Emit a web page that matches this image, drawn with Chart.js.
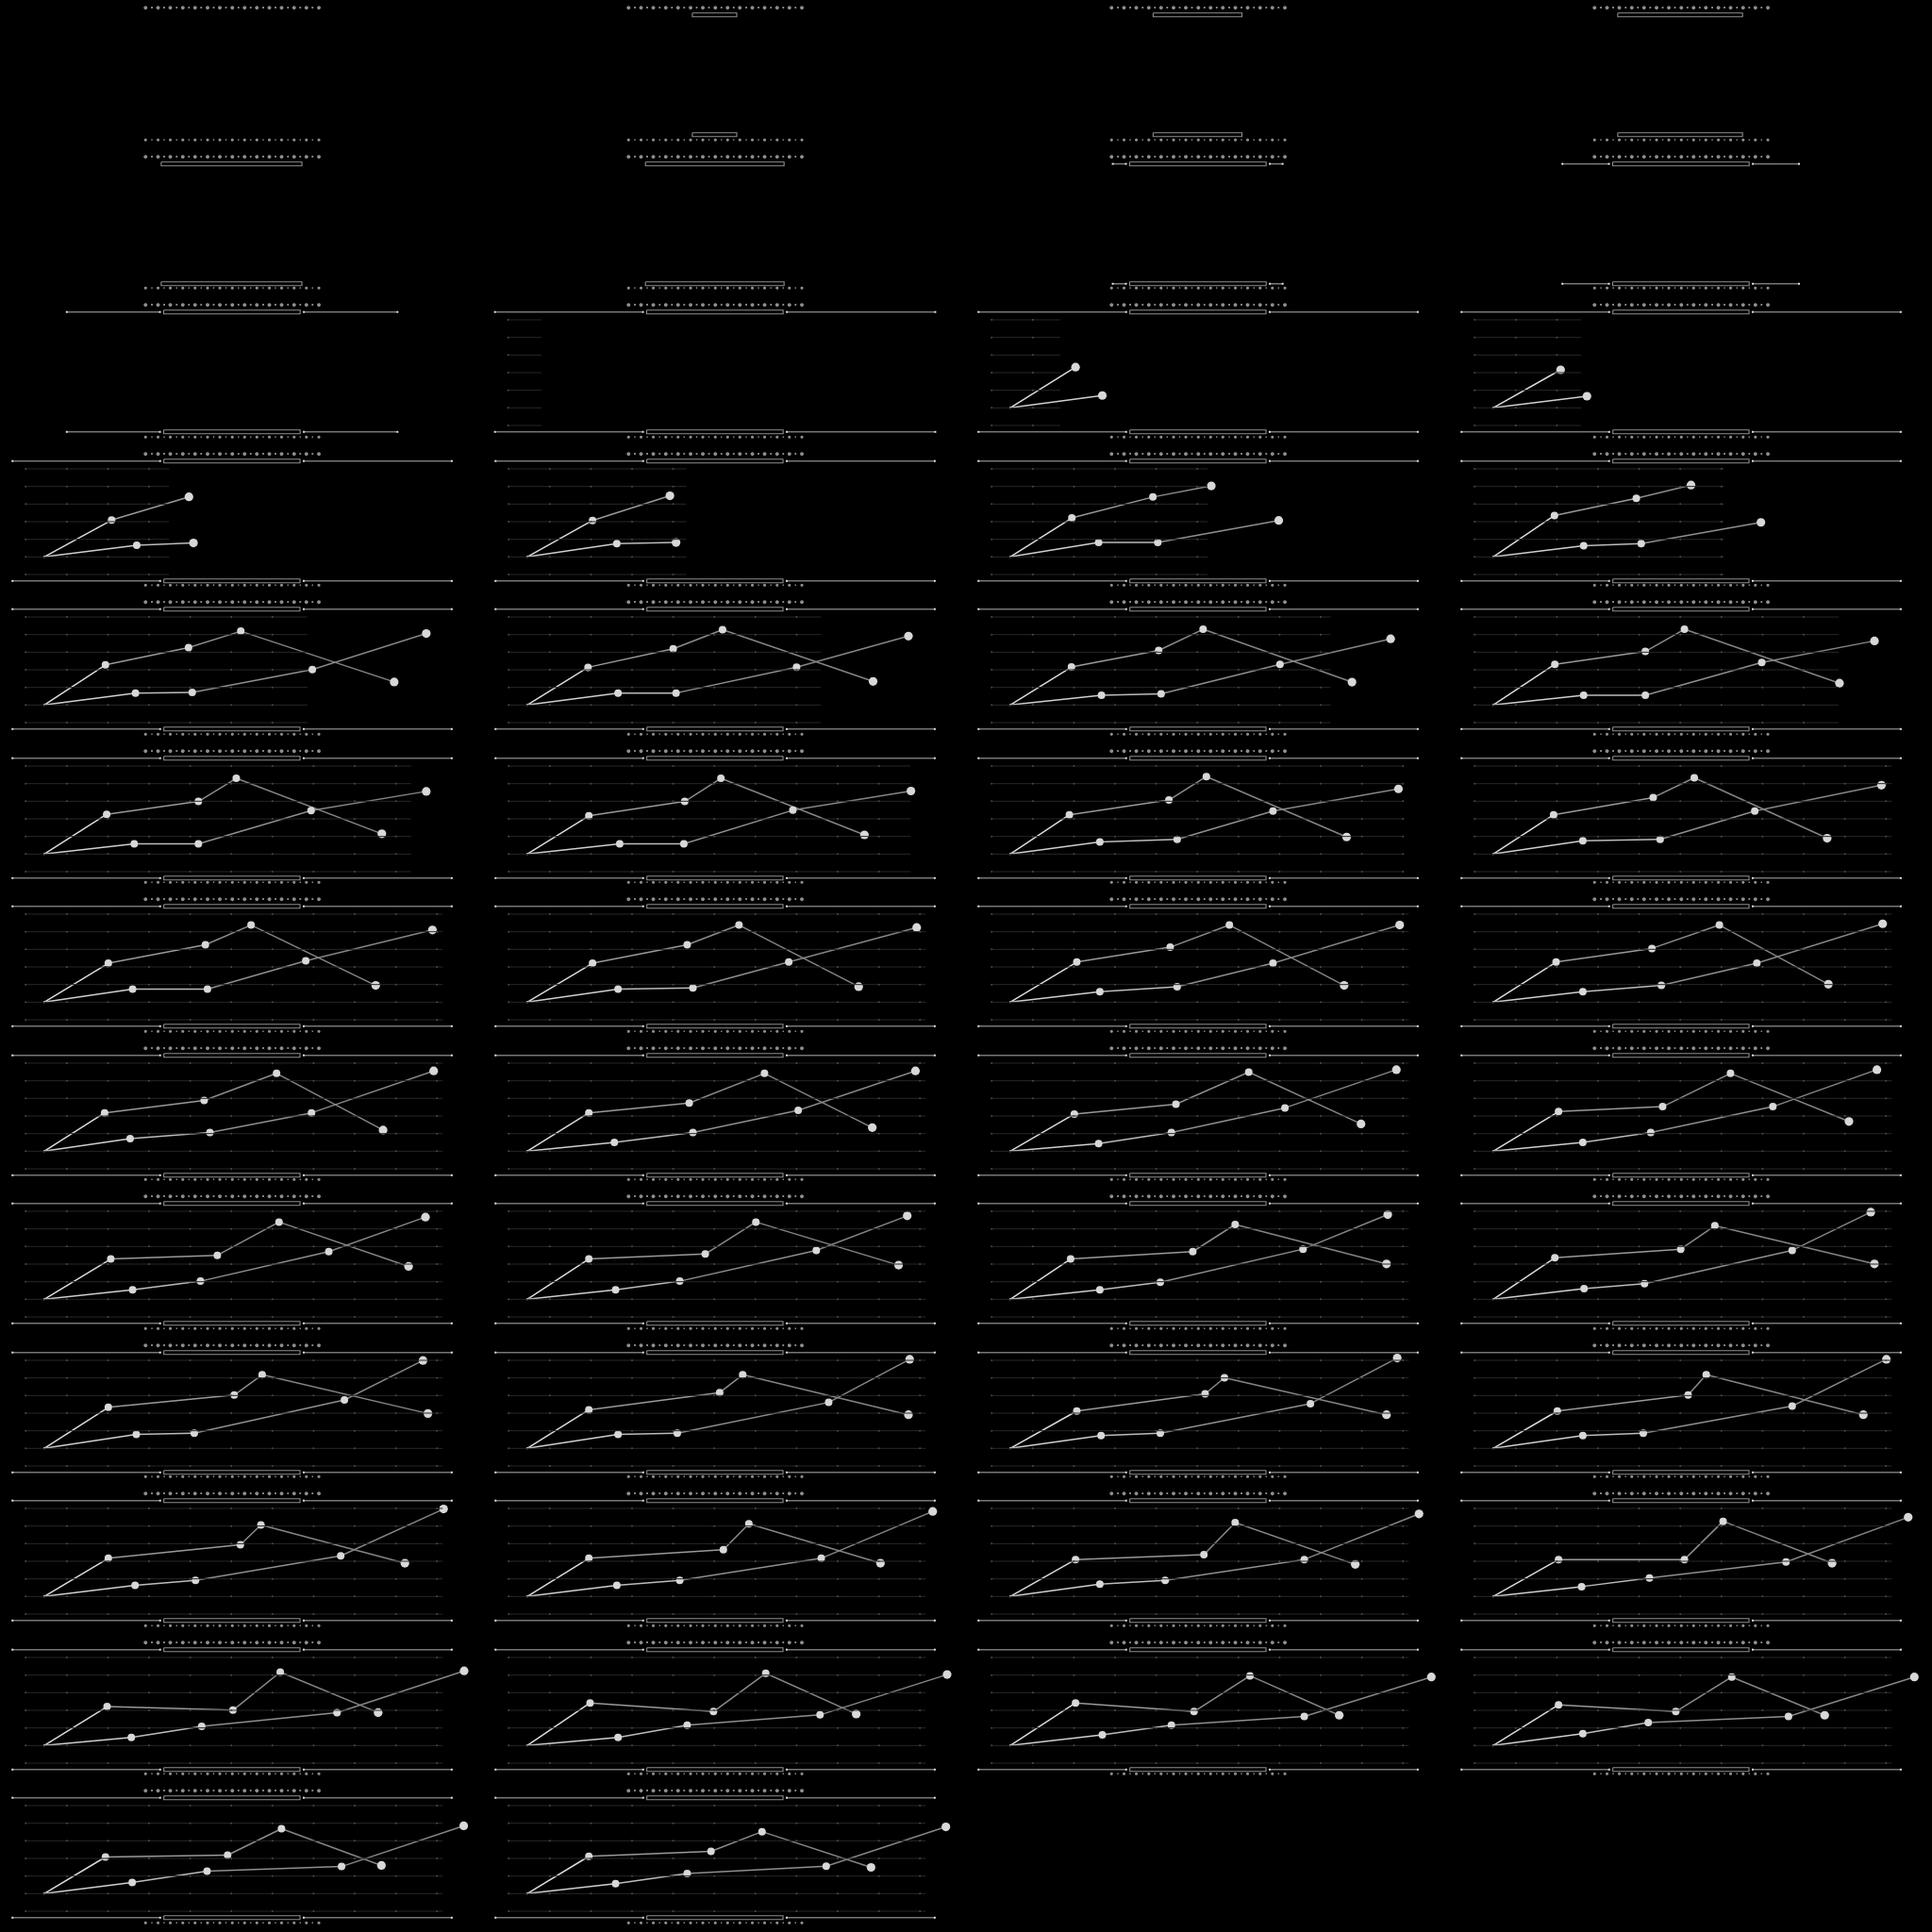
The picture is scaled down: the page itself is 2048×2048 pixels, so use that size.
<!DOCTYPE html>
<html><head><meta charset="utf-8">
<script src="https://cdn.jsdelivr.net/npm/chart.js@4/dist/chart.umd.min.js"></script>
<style>
html,body{margin:0;padding:0;background:#000;}
#wrap{position:relative;width:2048px;height:2048px;background:#000;overflow:hidden}
.tile{position:absolute;width:512px}
canvas{display:block}
</style></head><body><div id="wrap"></div>
<script>
// ---------------- DATA ----------------
const titleText = '∙·∙·∙·∙·∙·∙·∙·∙·∙·∙·∙·∙·∙·∙·∙   ';
const startPoint = [0.45, 10];
const gridLevels = [0, 10, 20, 30, 40, 50, 60];
const xTicks = [0, 1, 2, 3, 4, 5, 6, 7, 8, 9, 10];

// right end of the horizontal grid in each frame (x units), null = no grid
const gridRight = [null,null,null,null,null,null,null,null,null,0.81,
  1.67,2.59,3.49,4.32,5.25,6.06,6.85,7.59,8.24,8.85,
  9.37,9.77,10.02,10.14,10.14,10.14,10.14,10.14,10.14,10.14,
  10.14,10.14,10.14,10.14,10.14,10.14,10.14,10.14,10.14,10.14,
  10.14,10.14,10.14,10.14,10.14,10.14,10.14,10.14,10.14,10.14];

// box-and-whisker strip (x units) per frame
const boxLow  = [null,4.48,3.95,3.51,3.33,3.36,3.36,3.36,3.36,3.36,
  3.36,3.36,3.36,3.36,3.36,3.36,3.36,3.36,3.36,3.36,3.36,3.36,3.36,3.36,3.36,
  3.36,3.36,3.36,3.36,3.36,3.36,3.36,3.36,3.36,3.36,3.36,3.36,3.36,3.36,3.36,
  3.36,3.36,3.36,3.36,3.36,3.36,3.36,3.36,3.36,3.36];
const boxHigh = [null,5.54,6.07,6.49,6.69,6.67,6.67,6.67,6.67,6.67,
  6.67,6.67,6.67,6.67,6.67,6.67,6.67,6.67,6.67,6.67,6.67,6.67,6.67,6.67,6.67,
  6.67,6.67,6.67,6.67,6.67,6.67,6.67,6.67,6.67,6.67,6.67,6.67,6.67,6.67,6.67,
  6.67,6.67,6.67,6.67,6.67,6.67,6.67,6.67,6.67,6.67];
const whiskLow  = [null,null,null,null,null,null,2.95,2.14,1.01,-0.32,
  -0.32,-0.32,-0.32,-0.32,-0.32,-0.32,-0.32,-0.32,-0.32,-0.32,-0.32,-0.32,-0.32,-0.32,-0.32,
  -0.32,-0.32,-0.32,-0.32,-0.32,-0.32,-0.32,-0.32,-0.32,-0.32,-0.32,-0.32,-0.32,-0.32,-0.32,
  -0.32,-0.32,-0.32,-0.32,-0.32,-0.32,-0.32,-0.32,-0.32,-0.32];
const whiskHigh = [null,null,null,null,null,null,7.07,7.88,9.03,10.36,
  10.36,10.36,10.36,10.36,10.36,10.36,10.36,10.36,10.36,10.36,10.36,10.36,10.36,10.36,10.36,
  10.36,10.36,10.36,10.36,10.36,10.36,10.36,10.36,10.36,10.36,10.36,10.36,10.36,10.36,10.36,
  10.36,10.36,10.36,10.36,10.36,10.36,10.36,10.36,10.36,10.36];

// series values per frame, [x, y] after the shared start point
const seriesA = [[],[],[],[],[],[],[],[],[],[],
  [[2.04,33.1]],
  [[2.09,31.6]],
  [[2.09,30.9],[3.97,44.1]],
  [[2.04,30.7],[3.92,44.7]],
  [[1.95,32.1],[3.92,44.0],[5.34,50.3]],
  [[1.94,33.5],[3.93,43.3],[5.26,50.8]],
  [[1.94,32.8],[3.96,42.6],[5.23,51.9],[8.96,23.1]],
  [[1.93,31.4],[4.00,41.9],[5.20,52.8],[8.86,23.4]],
  [[1.94,31.6],[4.06,41.0],[5.14,53.0],[8.76,23.0]],
  [[1.95,33.1],[4.15,40.4],[5.10,53.0],[8.87,22.4]],
  [[1.97,32.6],[4.20,39.9],[5.12,53.0],[8.66,21.5]],
  [[1.95,31.7],[4.28,39.9],[5.16,53.0],[8.65,20.9]],
  [[1.89,32.3],[4.31,40.7],[5.22,54.0],[8.63,19.7]],
  [[1.92,32.3],[4.34,42.1],[5.34,53.3],[8.57,19.0]],
  [[2.01,32.1],[4.37,42.6],[5.48,53.8],[8.51,19.5]],
  [[2.04,32.1],[4.34,42.6],[5.60,53.8],[8.51,18.8]],
  [[2.07,32.8],[4.34,41.2],[5.78,53.8],[8.57,19.5]],
  [[1.98,32.8],[4.31,40.5],[5.95,53.8],[8.60,20.2]],
  [[1.92,31.8],[4.34,38.8],[6.10,54.2],[8.69,22.0]],
  [[1.95,31.8],[4.39,37.4],[6.22,54.2],[8.84,23.4]],
  [[2.01,31.1],[4.48,36.7],[6.25,54.9],[8.98,25.5]],
  [[2.04,32.5],[4.57,35.3],[6.22,54.2],[9.10,26.9]],
  [[2.07,32.9],[4.66,35.0],[6.16,53.9],[9.31,28.7]],
  [[1.95,32.9],[4.78,35.7],[6.01,53.9],[9.48,29.4]],
  [[1.92,32.9],[4.89,37.1],[5.92,52.5],[9.60,30.1]],
  [[1.95,33.6],[5.01,38.5],[5.84,51.8],[9.72,30.1]],
  [[2.01,33.3],[5.07,40.3],[5.75,51.8],[9.78,29.8]],
  [[1.95,31.9],[5.13,41.7],[5.69,51.8],[9.72,29.1]],
  [[2.07,31.2],[5.19,41.0],[5.66,50.1],[9.60,29.1]],
  [[2.01,31.2],[5.19,40.3],[5.63,51.8],[9.45,29.1]],
  [[2.01,31.7],[5.22,39.4],[5.72,50.6],[9.22,28.9]],
  [[1.95,31.7],[5.22,36.6],[5.84,51.3],[9.04,28.9]],
  [[2.04,31.0],[5.16,33.8],[5.92,52.0],[8.84,28.2]],
  [[2.04,31.0],[5.10,31.0],[6.04,52.7],[8.69,28.9]],
  [[1.98,32.1],[5.04,30.1],[6.19,51.7],[8.57,28.7]],
  [[1.98,34.2],[4.98,29.3],[6.25,51.0],[8.45,27.9]],
  [[2.04,34.2],[4.92,29.3],[6.28,49.6],[8.45,27.2]],
  [[2.04,33.1],[4.89,29.3],[6.25,48.9],[8.51,27.2]],
  [[1.94,30.8],[4.91,31.9],[6.22,46.9],[8.65,26.0]],
  [[1.95,31.2],[4.92,34.0],[6.16,45.2],[8.81,24.9]]
];
const seriesB = [[],[],[],[],[],[],[],[],[],[],
  [[2.69,17.0]],
  [[2.73,16.6]],
  [[2.70,16.6],[4.08,17.9]],
  [[2.63,17.5],[4.07,18.2]],
  [[2.60,18.2],[4.04,18.2],[6.98,30.7]],
  [[2.65,16.4],[4.05,17.6],[6.96,29.6]],
  [[2.67,16.7],[4.05,17.2],[6.97,30.1],[9.74,50.6]],
  [[2.66,16.8],[4.07,16.8],[7.00,31.5],[9.72,49.1]],
  [[2.67,15.5],[4.12,16.3],[7.01,33.1],[9.70,47.6]],
  [[2.65,15.5],[4.15,15.5],[6.98,34.2],[9.72,46.4]],
  [[2.64,15.8],[4.20,15.8],[6.94,34.7],[9.74,45.6]],
  [[2.70,15.8],[4.26,15.8],[6.91,34.9],[9.78,45.8]],
  [[2.63,16.9],[4.51,18.3],[6.84,34.4],[9.89,47.0]],
  [[2.63,17.6],[4.51,18.3],[6.81,34.4],[9.89,49.1]],
  [[2.60,17.4],[4.42,17.4],[6.81,33.5],[9.89,51.0]],
  [[2.66,17.4],[4.48,18.1],[6.81,32.8],[9.92,52.4]],
  [[2.63,16.0],[4.51,18.8],[6.84,32.1],[9.92,53.8]],
  [[2.63,16.0],[4.54,19.5],[6.86,32.1],[9.92,54.5]],
  [[2.54,17.1],[4.48,20.6],[6.95,31.8],[9.92,55.6]],
  [[2.57,15.0],[4.48,20.6],[7.04,33.2],[9.89,55.6]],
  [[2.60,14.3],[4.37,20.6],[7.13,34.6],[9.84,56.3]],
  [[2.63,15.0],[4.28,20.6],[7.25,35.3],[9.78,56.3]],
  [[2.60,15.4],[4.25,20.3],[7.37,37.1],[9.72,56.7]],
  [[2.60,15.4],[4.16,20.3],[7.48,37.8],[9.69,57.4]],
  [[2.63,15.4],[4.10,19.7],[7.57,38.5],[9.63,58.1]],
  [[2.66,16.1],[4.13,18.9],[7.72,37.8],[9.63,59.5]],
  [[2.69,17.9],[4.10,18.6],[7.75,37.5],[9.66,59.9]],
  [[2.66,17.9],[4.10,18.6],[7.78,36.1],[9.75,60.6]],
  [[2.66,17.3],[4.10,18.6],[7.75,35.4],[9.86,61.3]],
  [[2.63,17.3],[4.10,18.6],[7.72,34.0],[10.01,60.6]],
  [[2.66,16.3],[4.13,19.2],[7.66,33.1],[10.16,59.7]],
  [[2.63,16.3],[4.16,19.2],[7.60,31.7],[10.31,58.3]],
  [[2.63,17.0],[4.22,19.2],[7.60,31.0],[10.39,56.9]],
  [[2.60,15.6],[4.25,20.5],[7.57,29.6],[10.54,55.0]],
  [[2.57,14.6],[4.28,20.9],[7.57,28.7],[10.66,52.4]],
  [[2.66,14.6],[4.34,21.6],[7.57,27.4],[10.66,50.3]],
  [[2.69,16.1],[4.37,21.6],[7.60,26.5],[10.69,48.9]],
  [[2.63,16.8],[4.22,23.0],[7.63,26.5],[10.69,48.9]],
  [[2.59,16.3],[4.41,22.8],[7.68,25.4],[10.65,48.5]],
  [[2.60,15.7],[4.34,21.4],[7.72,25.6],[10.63,47.9]]
];

// ---------------- LAYOUT / STYLE ----------------
const COLS = 4, ROWS = 13, TILE_W = 512;
const PX_PER_X = 44.4, X0_PX = 23;          // x=0 sits 23px into a tile
const PX_PER_Y = 112 / 60, Y60_PX = 24, Y0_PX = 136;
const TITLE_PAD_TOP = 3.5, FONT_SIZE = 10.9, SUB_PAD_BOTTOM = 3;
const STRIP_TOP_Y = 64.45, STRIP_BOTTOM_Y = -3.64, STRIP_HALF = 1.07, WHISK_GAP = 0.09;
const fontSpec = {family: 'DejaVu Sans Mono', size: FONT_SIZE, lineHeight: 1};

const wrap = document.getElementById('wrap');

function stripDatasets(f, yc) {
  const out = [];
  if (boxLow[f] != null) {
    const lo = boxLow[f], hi = boxHigh[f];
    out.push({data: [{x: lo, y: yc + STRIP_HALF}, {x: hi, y: yc + STRIP_HALF}, {x: hi, y: yc - STRIP_HALF},
      {x: lo, y: yc - STRIP_HALF}, {x: lo, y: yc + STRIP_HALF}],
      borderColor: '#8e8e8e', borderWidth: 1.1, pointRadius: 0});
  }
  if (whiskLow[f] != null) {
    const common = {borderColor: '#777', borderWidth: 1.6, pointRadius: 1.4, pointStyle: 'rect',
      pointBackgroundColor: '#e0e0e0', pointBorderWidth: 0};
    out.push(Object.assign({data: [{x: whiskLow[f], y: yc}, {x: boxLow[f] - WHISK_GAP, y: yc}]}, common));
    out.push(Object.assign({data: [{x: boxHigh[f] + WHISK_GAP, y: yc}, {x: whiskHigh[f], y: yc}]}, common));
  }
  return out;
}

function seriesDataset(vals, segColors) {
  const pts = [{x: startPoint[0], y: startPoint[1]}].concat(vals.map(v => ({x: v[0], y: v[1]})));
  const radii = pts.map((p, i) => i === 0 ? 1 : (i === pts.length - 1 ? 4.6 : 4));
  return {
    data: pts, borderWidth: 1.5, borderColor: '#8a8a8a',
    segment: {borderColor: ctx => segColors[Math.min(ctx.p0DataIndex, segColors.length - 1)]},
    pointRadius: radii, pointBackgroundColor: '#d8d8d8', pointBorderColor: '#d8d8d8', pointBorderWidth: 0
  };
}

for (let f = 0; f < 50; f++) {
  const r = Math.floor(f / COLS), c = f % COLS;
  const top = Math.round(r * 2048 / ROWS);
  const h = Math.round((r + 1) * 2048 / ROWS) - top;
  const div = document.createElement('div');
  div.className = 'tile';
  div.style.left = (c * TILE_W) + 'px';
  div.style.top = top + 'px';
  div.style.height = h + 'px';
  const cv = document.createElement('canvas');
  cv.width = TILE_W; cv.height = h;
  cv.style.width = TILE_W + 'px'; cv.style.height = h + 'px';
  div.appendChild(cv);
  wrap.appendChild(div);

  const areaTop = TITLE_PAD_TOP + FONT_SIZE;
  const areaBottom = h - (FONT_SIZE + SUB_PAD_BOTTOM);
  const yMax = 60 + (Y60_PX - areaTop) / PX_PER_Y;
  const yMin = 0 - (areaBottom - Y0_PX) / PX_PER_Y;
  const xMin = -X0_PX / PX_PER_X;
  const xMax = (TILE_W - X0_PX) / PX_PER_X;

  const datasets = [];
  if (gridRight[f] != null) {
    gridLevels.forEach(L => {
      const pts = xTicks.filter(t => t <= gridRight[f]).map(t => ({x: t, y: L}));
      pts.push({x: gridRight[f], y: L});
      datasets.push({data: pts, borderColor: '#272727', borderWidth: 1,
        pointRadius: pts.map((p, i) => i < pts.length - 1 ? 1 : 0),
        pointBackgroundColor: '#4a4a4a', pointBorderWidth: 0});
    });
  }
  stripDatasets(f, STRIP_TOP_Y).forEach(d => datasets.push(d));
  stripDatasets(f, STRIP_BOTTOM_Y).forEach(d => datasets.push(d));
  if (seriesB[f].length) datasets.push(seriesDataset(seriesB[f], ['#cfcfcf', '#bcbcbc', '#8f8f8f', '#868686']));
  if (seriesA[f].length) datasets.push(seriesDataset(seriesA[f], ['#dcdcdc', '#9a9a9a', '#8c8c8c', '#858585']));
  datasets.forEach(d => { d.clip = false; d.tension = 0; d.fill = false; });

  new Chart(cv, {
    type: 'line',
    data: {datasets},
    options: {
      responsive: false, animation: false, events: [],
      layout: {padding: 0},
      plugins: {
        legend: {display: false}, tooltip: {enabled: false},
        title: {display: true, text: titleText, color: '#8f8f8f', font: fontSpec,
          padding: {top: TITLE_PAD_TOP, bottom: 0}},
        subtitle: {display: true, position: 'bottom', text: titleText, color: '#8f8f8f', font: fontSpec,
          padding: {top: 0, bottom: SUB_PAD_BOTTOM}}
      },
      scales: {
        x: {type: 'linear', display: false, min: xMin, max: xMax},
        y: {type: 'linear', display: false, min: yMin, max: yMax}
      }
    }
  });
}
</script></body></html>
